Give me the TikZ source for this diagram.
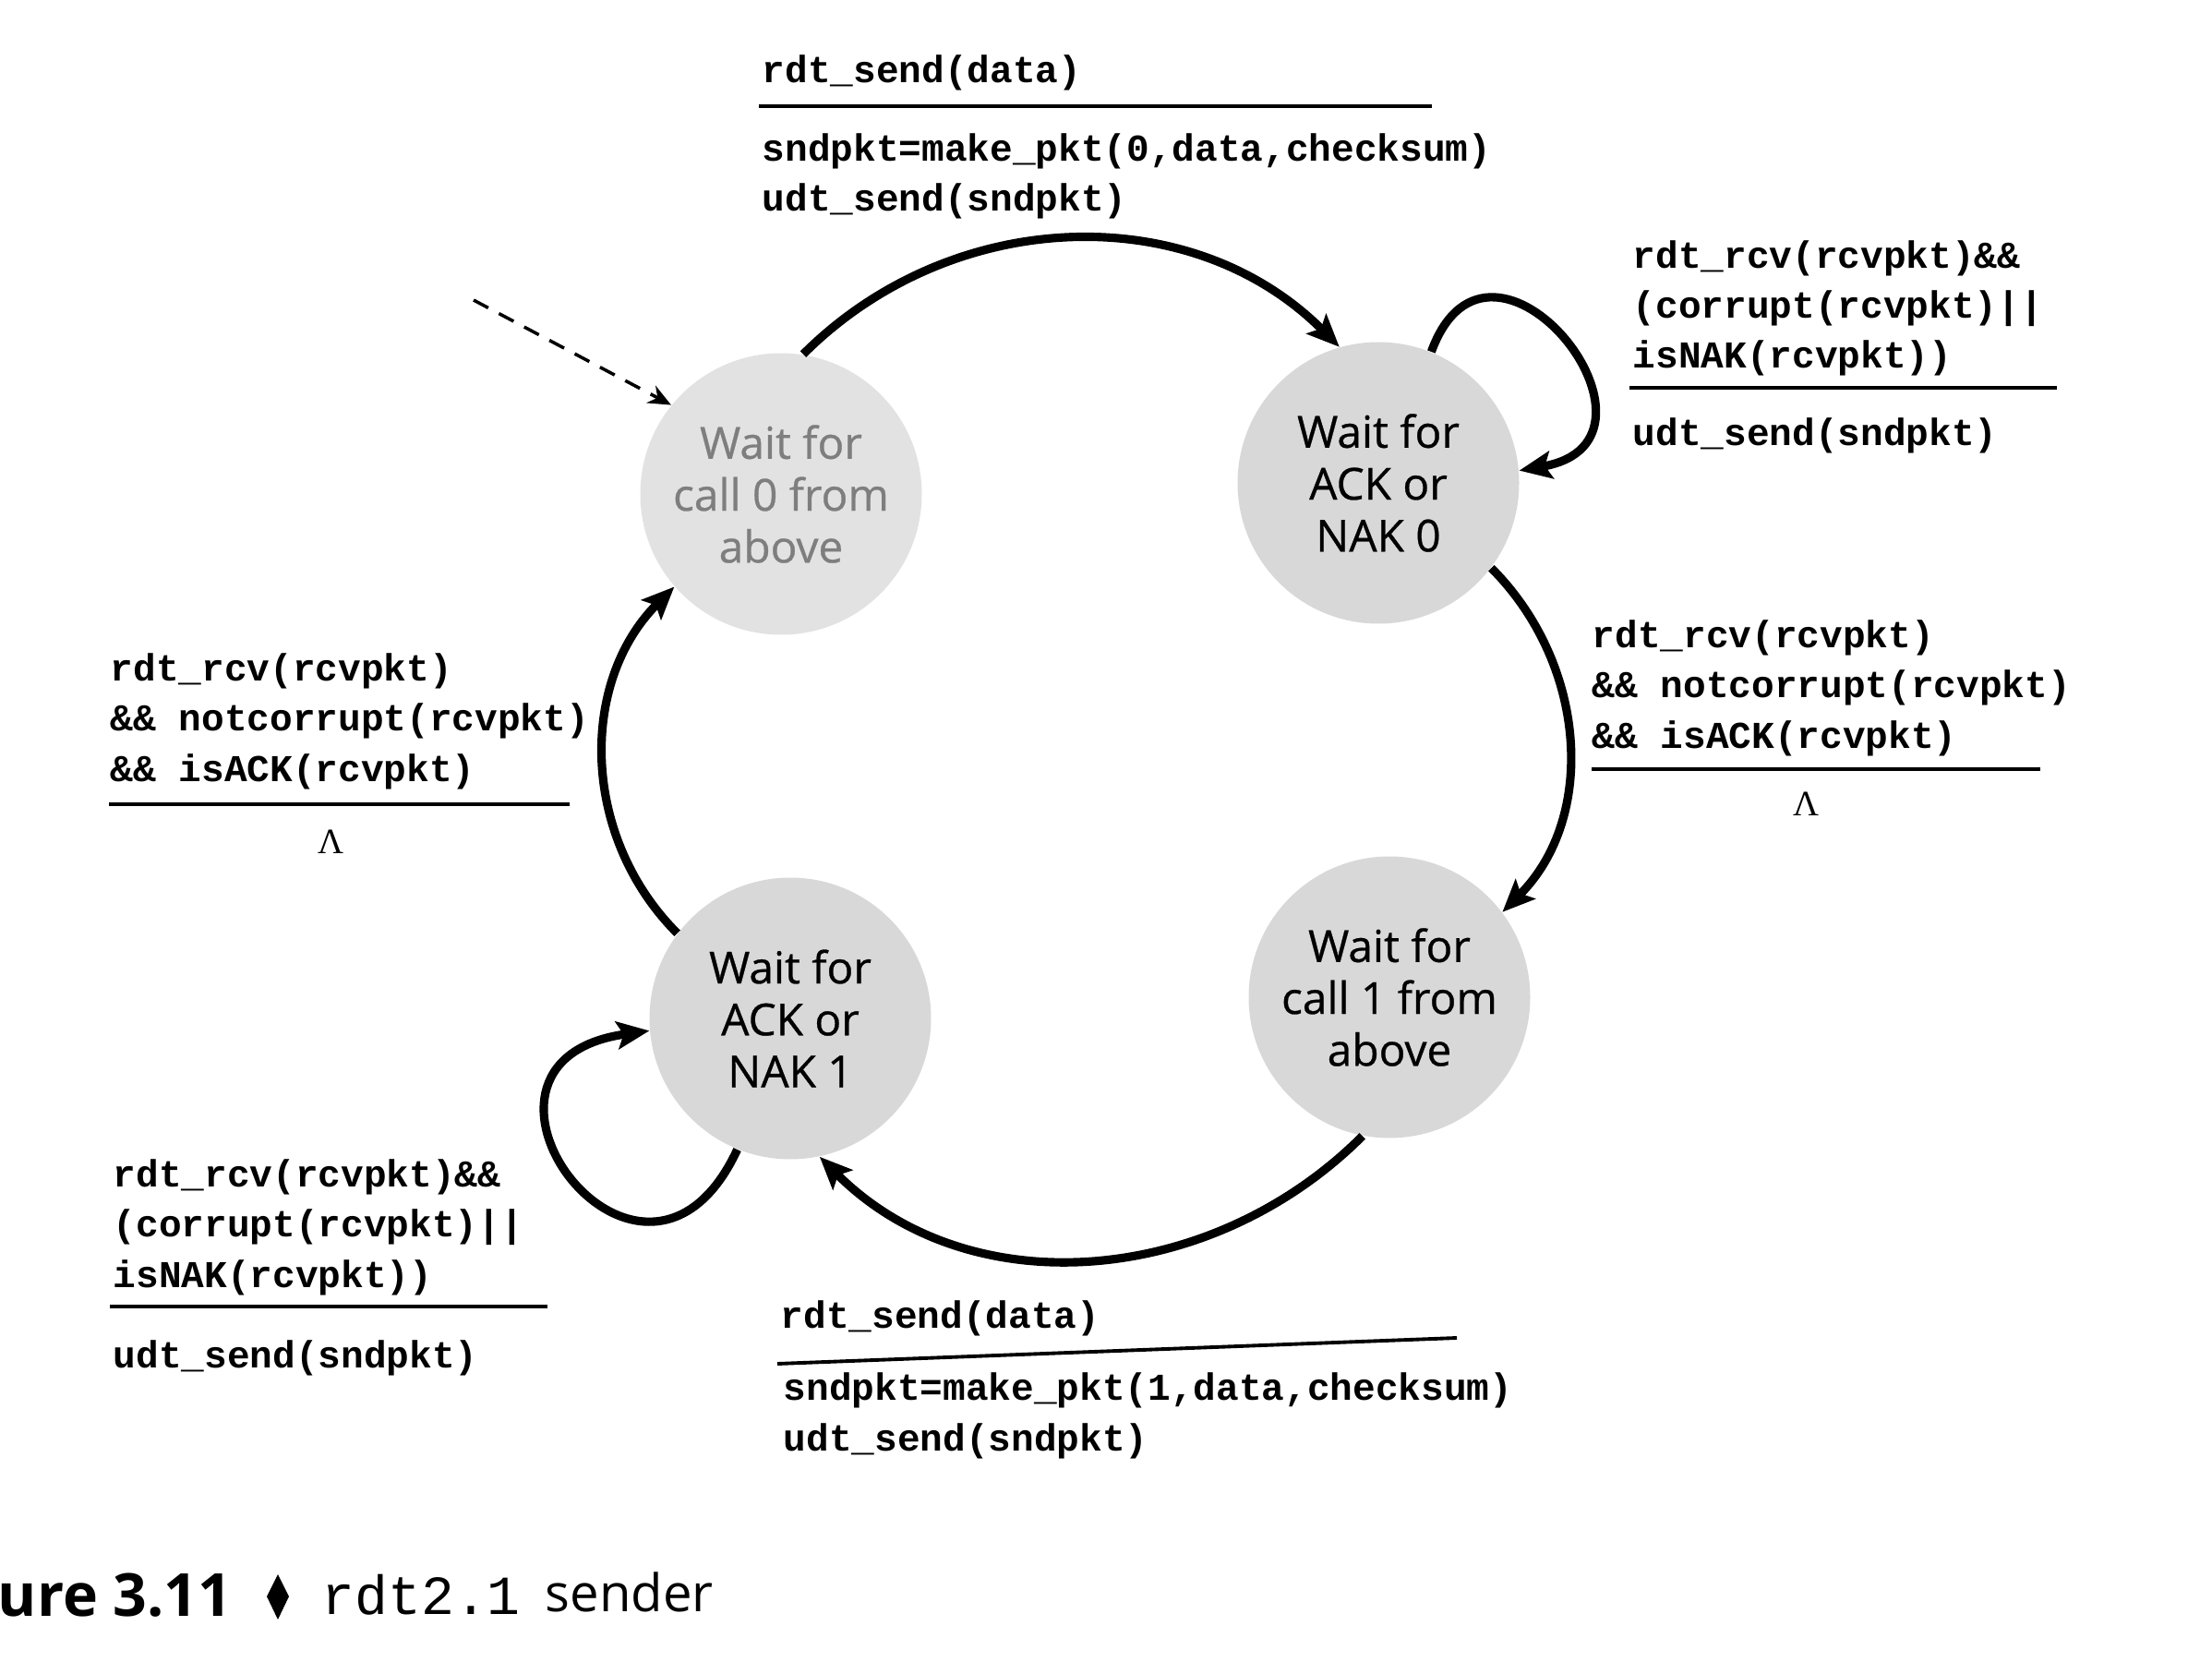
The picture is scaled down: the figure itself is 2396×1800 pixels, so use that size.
\documentclass[tikz,border=0pt]{standalone}
\usepackage{fontspec}
\newfontfamily\statefont{Open Sans}[FakeBold=0.6]
\newfontfamily\capfont{Open Sans}
\newfontfamily\codefont{Liberation Mono}
\newfontfamily\lamfont{Liberation Serif}
\definecolor{mStateBg}{HTML}{D8D8D8}
\definecolor{mPaleBg}{HTML}{E2E2E2}
\definecolor{mFaded}{HTML}{7E7E7E}
\usetikzlibrary{arrows.meta}

\begin{document}
\begin{tikzpicture}[x=0.1mm, y=-0.1mm,
  waitstate/.style={circle, fill=mStateBg, minimum size=3.05cm, inner sep=0pt, align=center, font=\statefont\fontsize{13.6}{16}\selectfont},
  lbl/.style={anchor=base west, align=left, inner sep=0pt, font=\codefont\bfseries\fontsize{11.7}{15.4}\selectfont},
  lam/.style={anchor=base, inner sep=0pt, font=\lamfont\fontsize{11}{12}\selectfont},
  rulel/.style={line width=1.1pt},
  trans/.style={line width=2.6pt, -{Stealth[length=10pt,width=8.5pt,inset=2pt]}}]
\clip (0,0) rectangle (2396,1800);
\node[waitstate, fill=mPaleBg, text=mFaded] (w0) at (846,535) {Wait for\\call 0 from\\above};
\node[waitstate] (a0) at (1493,523) {Wait for\\ACK or\\NAK 0};
\node[waitstate] (w1) at (1505,1080) {Wait for\\call 1 from\\above};
\node[waitstate] (a1) at (856,1103) {Wait for\\ACK or\\NAK 1};
\coordinate (init) at (513,325);
\draw[line width=1pt, dash pattern=on 1.8mm off 1.3mm, -{Stealth[length=7pt,width=6pt]}] (init) -- (w0.141);
\draw[trans] (w0.81) to[out=45,in=135] (a0.106);
\draw[trans] (a0.68) to[out=70,in=10,looseness=3] (a0.5);
\draw[trans] (a0.-37) to[out=-45,in=45] (w1.37);
\draw[trans] (w1.-101) to[out=-135,in=-45] (a1.-78);
\draw[trans] (a1.-112) to[out=-115,in=188,looseness=3.9] (a1.185);
\draw[trans] (a1.143) to[out=135,in=-135] (w0.-139);
% transition labels
\node[lbl] (ev0) at (825,90) {rdt\_send(data)};
\draw[rulel] (822,115) -- (1551,115);
\node[lbl] (ac0) at (825,229) {sndpkt=make\_pkt(0,data,checksum)\\udt\_send(sndpkt)};
\node[lbl] (ev1) at (1768,399) {rdt\_rcv(rcvpkt)\&\&\\(corrupt(rcvpkt)||\\isNAK(rcvpkt))};
\draw[rulel] (1765,420) -- (2228,420);
\node[lbl] (ac1) at (1768,483) {udt\_send(sndpkt)};
\node[lbl] (ev2) at (1724,810) {rdt\_rcv(rcvpkt)\\\&\& notcorrupt(rcvpkt)\\\&\& isACK(rcvpkt)};
\draw[rulel] (1724,833) -- (2210,833);
\node[lam] (ac2) at (1956,883) {Λ};
\node[lbl] (ev3) at (845,1438) {rdt\_send(data)};
\draw[rulel] (842,1477) -- (1578,1449);
\node[lbl] (ac3) at (848,1571) {sndpkt=make\_pkt(1,data,checksum)\\udt\_send(sndpkt)};
\node[lbl] (ev4) at (122,1394) {rdt\_rcv(rcvpkt)\&\&\\(corrupt(rcvpkt)||\\isNAK(rcvpkt))};
\draw[rulel] (119,1415) -- (593,1415);
\node[lbl] (ac4) at (122,1481) {udt\_send(sndpkt)};
\node[lbl] (ev5) at (119,846) {rdt\_rcv(rcvpkt)\\\&\& notcorrupt(rcvpkt)\\\&\& isACK(rcvpkt)};
\draw[rulel] (118,871) -- (617,871);
\node[lam] (ac5) at (359,924) {Λ};
% caption
\node[anchor=base east, inner sep=0pt, font=\capfont\bfseries\fontsize{18.3}{20}\selectfont] (fig) at (252,1750) {Figure 3.11};
\fill (301,1705) -- (313,1729) -- (301,1754) -- (289,1729) -- cycle;
\node[anchor=base west, inner sep=0pt, font=\codefont\fontsize{17}{20}\selectfont] (rdt) at (348,1748) {rdt2.1};
\node[anchor=base west, inner sep=0pt, font=\capfont\fontsize{16}{20}\selectfont] (snd) at (590,1745) {sender};
\end{tikzpicture}
\end{document}
